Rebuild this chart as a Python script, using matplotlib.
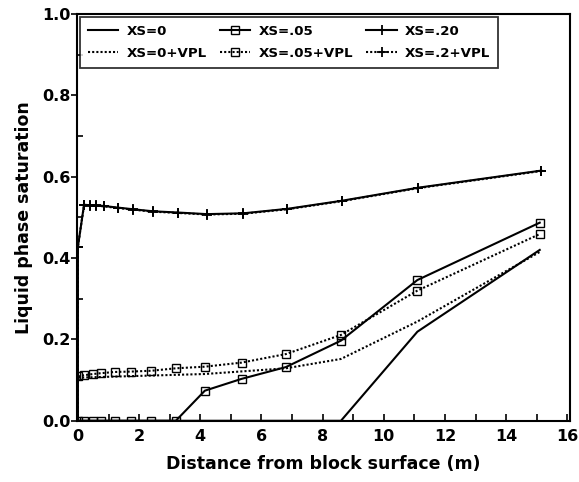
import matplotlib
matplotlib.use("Agg")
import matplotlib.pyplot as plt
from matplotlib.ticker import MultipleLocator, FormatStrFormatter

plt.rcParams['font.family'] = ['DejaVu Sans']
plt.rcParams['font.weight'] = 'bold'

# Data
x_grid = [0.0, 0.2, 0.5, 0.75, 1.2, 1.75, 2.4, 3.2, 4.15, 5.35, 6.8, 8.6, 11.1, 15.1]

xs0_x = [0.0, 8.6, 11.1, 15.1]
xs0_y = [0.0, 0.0, 0.219, 0.42]

xs0vpl_x = [0.0, 4.15, 6.8, 8.6, 11.1, 15.1]
xs0vpl_y = [0.106, 0.115, 0.129, 0.152, 0.244, 0.415]

xs05_y = [0.0, 0.0, 0.0, 0.0, 0.0, 0.0, 0.0, 0.0, 0.074, 0.103, 0.132, 0.197, 0.346, 0.487]
xs05vpl_y = [0.109, 0.112, 0.115, 0.117, 0.120, 0.121, 0.123, 0.129, 0.133, 0.143, 0.164, 0.211, 0.320, 0.459]

xs20_x = [0.0, 0.0, 0.2, 0.38, 0.58, 0.85, 1.31, 1.8, 2.45, 3.26, 4.21, 5.41, 6.85, 8.64, 11.13, 15.15]
xs20_y = [0.0, 0.428, 0.531, 0.530, 0.530, 0.528, 0.524, 0.520, 0.515, 0.512, 0.508, 0.510, 0.521, 0.541, 0.573, 0.615]
xs20vpl_y = [0.0, 0.428, 0.530, 0.529, 0.529, 0.527, 0.523, 0.519, 0.514, 0.511, 0.507, 0.509, 0.520, 0.540, 0.572, 0.614]

fig = plt.figure(figsize=(5.79, 4.82), dpi=100)
ax = fig.add_axes([0.133, 0.127, 0.852, 0.844])

dot = (0, (1, 1))
sq = dict(marker='s', ms=5.5, mfc='none', mec='black', mew=1.0)
pl = dict(marker='+', ms=7, mew=1.3)
h1, = ax.plot(xs0_x, xs0_y, '-', color='black', lw=1.5, label='XS=0')
h2, = ax.plot(xs0vpl_x, xs0vpl_y, linestyle=dot, color='black', lw=1.5, label='XS=0+VPL')
h3, = ax.plot(x_grid, xs05_y, '-', color='black', lw=1.5, label='XS=.05', **sq)
h4, = ax.plot(x_grid, xs05vpl_y, linestyle=dot, color='black', lw=1.5, label='XS=.05+VPL', **sq)
h5, = ax.plot(xs20_x, xs20_y, '-', color='black', lw=1.5, label='XS=.20', **pl)
h6, = ax.plot(xs20_x, xs20vpl_y, linestyle=dot, color='black', lw=1.5, label='XS=.2+VPL', **pl)

ax.set_xlim(-0.03, 16.1)
ax.set_ylim(0, 1.0)
ax.xaxis.set_major_locator(MultipleLocator(2))
ax.xaxis.set_minor_locator(MultipleLocator(1))
ax.yaxis.set_major_locator(MultipleLocator(0.2))
ax.yaxis.set_minor_locator(MultipleLocator(0.1))
ax.yaxis.set_major_formatter(FormatStrFormatter('%.1f'))
ax.tick_params(axis='x', which='both', direction='in', length=5, width=1.2, labelsize=11.5, pad=6)
ax.tick_params(axis='y', which='major', direction='out', length=4, width=1.2, labelsize=11.5, pad=0.5)
ax.tick_params(axis='y', which='minor', direction='in', length=4, width=1.2)
for lab in ax.get_xticklabels() + ax.get_yticklabels():
    lab.set_fontweight('bold')
for s in ax.spines.values():
    s.set_linewidth(1.5)

ax.set_xlabel('Distance from block surface (m)', fontsize=12.5, fontweight='bold', labelpad=8)
ax.set_ylabel('Liquid phase saturation', fontsize=12.5, fontweight='bold')
ax.yaxis.set_label_coords(-0.089, 0.5)

leg = ax.legend(handles=[h1, h2, h3, h4, h5, h6], ncol=3, loc='upper left',
                bbox_to_anchor=(0.0, 1.0), fontsize=9.6, frameon=True, fancybox=False,
                edgecolor='black', handlelength=2.3, columnspacing=1.0,
                borderaxespad=0.2, borderpad=0.6, handletextpad=0.6, labelspacing=0.7)
leg.get_frame().set_linewidth(1.3)
for t in leg.get_texts():
    t.set_fontweight('bold')

fig.savefig('out.png', dpi=100)
